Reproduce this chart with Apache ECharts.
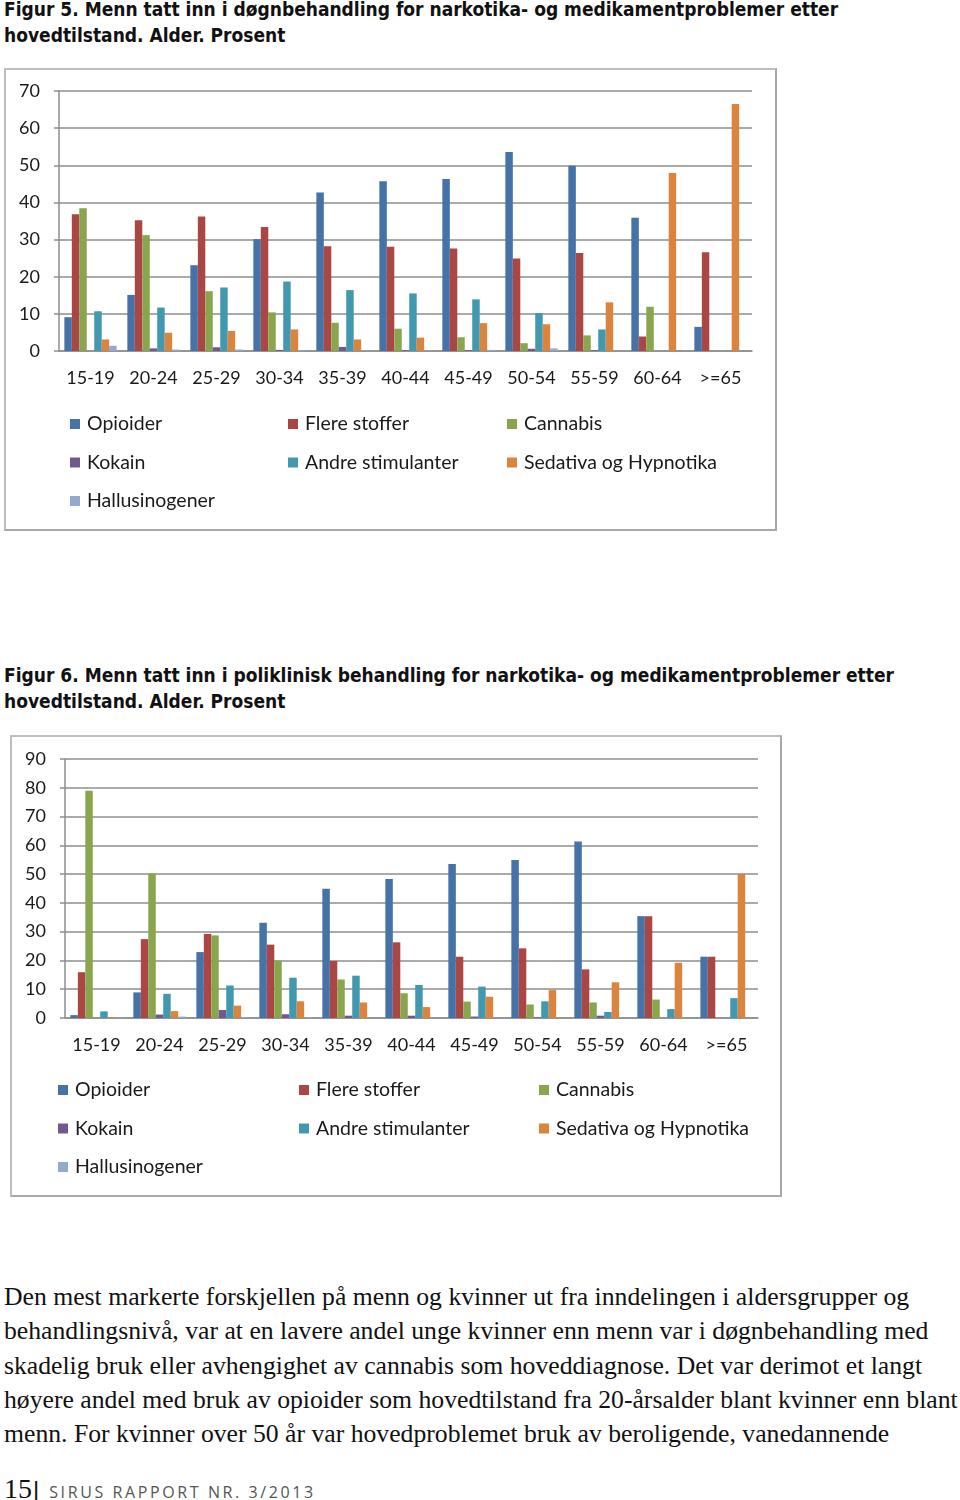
<!DOCTYPE html>
<html>
<head>
<meta charset="utf-8">
<script src="https://cdn.jsdelivr.net/npm/echarts@6/dist/echarts.min.js"></script>
<style>
  body { margin: 0; width: 960px; height: 1500px; background: #fff; position: relative; overflow: hidden; }
  .title { position: absolute; left: 4px; font-family: 'DejaVu Sans Condensed', 'DejaVu Sans', sans-serif; font-weight: bold; font-size: 19px; line-height: 26px; color: #111; white-space: nowrap; }
  .box { position: absolute; box-sizing: border-box; border: 2px solid #bdbdbd; border-right-color: #a8a8a8; border-bottom-color: #a8a8a8; background: #fff; }
  .para { position: absolute; left: 4px; top: 1280px; font-family: 'Liberation Serif', serif; font-size: 25.7px; line-height: 34.3px; color: #111; white-space: nowrap; }
  .foot { position: absolute; left: 4px; top: 1473px; white-space: nowrap; }
  .foot .num { font-family: 'Liberation Serif', serif; font-size: 28px; color: #111; }
  .foot .bar { font-family: 'Liberation Sans', sans-serif; font-size: 24px; color: #111; margin-left: 1px; }
  .foot .rap { font-family: 'Open Sans', sans-serif; font-size: 16px; letter-spacing: 2.6px; color: #555; margin-left: 10px; }
</style>
</head>
<body>
<div class="title" style="top:-4px">Figur 5. Menn tatt inn i døgnbehandling for narkotika- og medikamentproblemer etter<br>hovedtilstand. Alder. Prosent</div>
<div class="box" id="fig5" style="left:4px;top:68px;width:773px;height:463px"></div>

<div class="title" style="top:662px">Figur 6. Menn tatt inn i poliklinisk behandling for narkotika- og medikamentproblemer etter<br>hovedtilstand. Alder. Prosent</div>
<div class="box" id="fig6" style="left:10px;top:735px;width:772px;height:462px"></div>

<div class="para">Den mest markerte forskjellen på menn og kvinner ut fra inndelingen i aldersgrupper og<br>behandlingsnivå, var at en lavere andel unge kvinner enn menn var i døgnbehandling med<br>skadelig bruk eller avhengighet av cannabis som hoveddiagnose. Det var derimot et langt<br>høyere andel med bruk av opioider som hovedtilstand fra 20-årsalder blant kvinner enn blant<br>menn. For kvinner over 50 år var hovedproblemet bruk av beroligende, vanedannende</div>
<div class="foot"><span class="num">15</span><span class="bar">|</span><span class="rap">SIRUS RAPPORT NR. 3/2013</span></div>

<script>
const categories = ['15-19', '20-24', '25-29', '30-34', '35-39', '40-44', '45-49', '50-54', '55-59', '60-64', '>=65'];
const seriesNames = ['Opioider', 'Flere stoffer', 'Cannabis', 'Kokain', 'Andre stimulanter', 'Sedativa og Hypnotika', 'Hallusinogener'];

// Figur 5 - døgnbehandling
const opioider5 = [9.1, 15.1, 23.1, 30.1, 42.7, 45.7, 46.3, 53.6, 49.9, 35.9, 6.5];
const flere5 = [36.8, 35.2, 36.2, 33.4, 28.2, 28.1, 27.6, 24.9, 26.4, 3.9, 26.6];
const cannabis5 = [38.4, 31.2, 16.1, 10.4, 7.6, 6.0, 3.7, 2.1, 4.2, 11.9, 0];
const kokain5 = [0, 0.7, 1.0, 0.3, 1.1, 0.2, 0.2, 0.6, 0.2, 0, 0];
const andre5 = [10.7, 11.7, 17.1, 18.7, 16.4, 15.5, 13.9, 10.2, 5.8, 0, 0];
const sedativa5 = [3.1, 4.9, 5.4, 5.8, 3.1, 3.6, 7.5, 7.2, 13.1, 47.9, 66.5];
const halluc5 = [1.4, 0.4, 0.4, 0.2, 0.1, 0.1, 0.3, 0.7, 0, 0, 0];
const yTicks5 = [0, 10, 20, 30, 40, 50, 60, 70];

// Figur 6 - poliklinisk behandling
const opioider6 = [1.0, 8.9, 22.9, 33.1, 44.9, 48.3, 53.5, 54.9, 61.3, 35.4, 21.3];
const flere6 = [15.9, 27.4, 29.2, 25.5, 19.8, 26.3, 21.3, 24.2, 16.9, 35.4, 21.3];
const cannabis6 = [79.0, 50.2, 28.7, 19.9, 13.4, 8.6, 5.7, 4.7, 5.4, 6.4, 0];
const kokain6 = [0, 1.2, 2.8, 1.3, 0.8, 0.8, 0.5, 0.2, 0.8, 0, 0];
const andre6 = [2.3, 8.4, 11.3, 14.0, 14.7, 11.5, 10.9, 5.8, 2.1, 3.1, 6.9];
const sedativa6 = [0.3, 2.4, 4.3, 5.8, 5.4, 3.8, 7.4, 9.7, 12.4, 19.2, 50.0];
const halluc6 = [0.2, 0.5, 0.2, 0.2, 0, 0, 0, 0, 0, 0, 0];
const yTicks6 = [0, 10, 20, 30, 40, 50, 60, 70, 80, 90];

const colors = ['#4572A7', '#AA4643', '#89A54E', '#71588F', '#4198AF', '#DB843D', '#93A9CF'];
const gridColor = '#8e8e8e';
const fontFamily = 'Lato';

function legendColumn(names, left, top) {
  return {
    orient: 'vertical',
    left,
    top,
    padding: 0,
    data: names,
    icon: 'rect',
    itemWidth: 10,
    itemHeight: 10,
    itemGap: 18.5,
    selectedMode: false,
    textStyle: { fontFamily, fontSize: 19.5, color: '#1a1a1a', lineHeight: 20, padding: [0, 0, 0, 2] }
  };
}

function chartOption(values, yTicks, grid, legendLeft, legendTop) {
  return {
    animation: false,
    color: colors,
    grid,
    legend: [
      legendColumn([seriesNames[0], seriesNames[3], seriesNames[6]], legendLeft[0], legendTop),
      legendColumn([seriesNames[1], seriesNames[4]], legendLeft[1], legendTop),
      legendColumn([seriesNames[2], seriesNames[5]], legendLeft[2], legendTop)
    ],
    xAxis: {
      type: 'category',
      data: categories,
      axisLine: { lineStyle: { color: gridColor, width: 1.5 } },
      axisTick: { length: 5, lineStyle: { color: gridColor, width: 1.5 } },
      axisLabel: { color: '#1a1a1a', fontFamily, fontSize: 18, margin: 18, interval: 0 }
    },
    yAxis: {
      type: 'value',
      min: yTicks[0],
      max: yTicks[yTicks.length - 1],
      interval: yTicks[1] - yTicks[0],
      axisLine: { show: true, lineStyle: { color: gridColor, width: 1.5 } },
      axisTick: { show: true, length: 5, lineStyle: { color: gridColor, width: 1.5 } },
      splitLine: { lineStyle: { color: gridColor, width: 1.5 } },
      axisLabel: { color: '#1a1a1a', fontFamily, fontSize: 18, margin: 19 }
    },
    series: values.map((v, i) => {
      return {
        name: seriesNames[i],
        type: 'bar',
        data: v,
        barGap: '0%',
        barCategoryGap: '17%'
      };
    })
  };
}

function generateChart(id, option) {
  const chart = echarts.init(document.getElementById(id), null, { renderer: 'canvas' });
  chart.setOption(option, true);
  return chart;
}

generateChart('fig5', chartOption(
  [opioider5, flere5, cannabis5, kokain5, andre5, sedativa5, halluc5],
  yTicks5,
  { left: 53, right: 23, top: 21, bottom: 178 },
  [64, 282, 501],
  344
));

generateChart('fig6', chartOption(
  [opioider6, flere6, cannabis6, kokain6, andre6, sedativa6, halluc6],
  yTicks6,
  { left: 53, right: 22, top: 22, bottom: 177 },
  [46, 287, 527],
  343
));
</script>
</body>
</html>
